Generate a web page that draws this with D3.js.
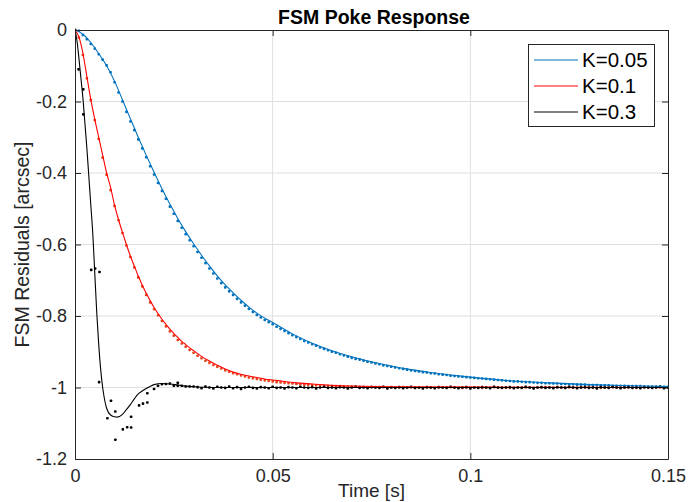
<!DOCTYPE html>
<html><head><meta charset="utf-8">
<script src="https://cdn.jsdelivr.net/npm/d3@7"></script>
<style>
html,body{margin:0;padding:0;background:#fff;}
svg text{font-family:"Liberation Sans",Arial,Helvetica,sans-serif;}
</style></head>
<body><svg id="chart" width="688" height="502"></svg>
<script>
// ---------- data ----------
const xTicks = [0, 0.05, 0.1, 0.15];
const xTickLabels = ["0", "0.05", "0.1", "0.15"];
const yTicks = [0, -0.2, -0.4, -0.6, -0.8, -1, -1.2];
const yTickLabels = ["0", "-0.2", "-0.4", "-0.6", "-0.8", "-1", "-1.2"];
const seriesNames = ["K=0.05", "K=0.1", "K=0.3"];

// model curves (time [s], residual [arcsec])
const blueLineT = [0,0.002,0.004,0.006,0.008,0.010,0.012,0.014,0.016,0.018,0.020,0.022,0.024,0.026,0.028,0.030,0.032,0.034,0.036,0.038,0.040,0.042,0.044,0.046,0.048,0.050,0.055,0.060,0.065,0.070,0.075,0.080,0.085,0.090,0.095,0.100,0.110,0.120,0.130,0.140,0.150];
const blueLineV = [0,-0.012,-0.035,-0.066,-0.1,-0.143,-0.195,-0.248,-0.3,-0.35,-0.398,-0.444,-0.487,-0.527,-0.564,-0.598,-0.63,-0.66,-0.688,-0.713,-0.735,-0.756,-0.775,-0.792,-0.806,-0.818,-0.85,-0.876,-0.897,-0.914,-0.928,-0.94,-0.95,-0.958,-0.965,-0.971,-0.981,-0.987,-0.992,-0.995,-0.997];

const redLineT = [0,0.001,0.002,0.003,0.004,0.005,0.006,0.007,0.008,0.009,0.010,0.011,0.012,0.013,0.014,0.015,0.016,0.017,0.018,0.019,0.020,0.021,0.022,0.023,0.024,0.025,0.026,0.027,0.028,0.029,0.030,0.032,0.034,0.036,0.038,0.040,0.042,0.044,0.046,0.048,0.050,0.053,0.056,0.060,0.065,0.070,0.080,0.100,0.150];
const redLineV = [0,-0.02,-0.065,-0.13,-0.195,-0.25,-0.3,-0.35,-0.4,-0.44,-0.49,-0.53,-0.566,-0.6,-0.632,-0.66,-0.688,-0.713,-0.736,-0.757,-0.776,-0.793,-0.809,-0.823,-0.837,-0.849,-0.86,-0.871,-0.88,-0.889,-0.897,-0.913,-0.926,-0.938,-0.948,-0.957,-0.963,-0.968,-0.972,-0.976,-0.979,-0.983,-0.987,-0.99,-0.994,-0.996,-0.998,-0.999,-1.0];

const blackLineT = [0,0.0005,0.001,0.0015,0.002,0.0025,0.003,0.0035,0.004,0.0045,0.005,0.0055,0.006,0.0065,0.007,0.0075,0.008,0.009,0.010,0.0107,0.012,0.013,0.014,0.015,0.016,0.017,0.018,0.019,0.020,0.022,0.024,0.026,0.028,0.030,0.035,0.040,0.050,0.070,0.100,0.150];
const blackLineV = [0,-0.03,-0.08,-0.135,-0.19,-0.26,-0.33,-0.41,-0.49,-0.57,-0.68,-0.79,-0.88,-0.95,-1.0,-1.035,-1.058,-1.077,-1.082,-1.083,-1.075,-1.062,-1.048,-1.032,-1.018,-1.01,-1.003,-0.997,-0.992,-0.989,-0.99,-0.993,-0.996,-0.998,-1.0,-1.0,-1.0,-1.0,-1.0,-1.0];

// measured samples, one per ms from t = 0
const blueDots = [
 0,-0.002,-0.014,-0.026,-0.039,-0.052,-0.068,-0.083,-0.099,-0.118,
 -0.146,-0.175,-0.2,-0.229,-0.256,-0.28,-0.306,-0.331,-0.356,-0.381,
 -0.404,-0.428,-0.45,-0.472,-0.494,-0.514,-0.534,-0.553,-0.571,-0.588,
 -0.605,-0.621,-0.637,-0.652,-0.667,-0.681,-0.695,-0.708,-0.72,-0.731,
 -0.741,-0.752,-0.762,-0.771,-0.78,-0.789,-0.797,-0.804,-0.811,-0.817,
 -0.823,-0.83,-0.836,-0.842,-0.848,-0.854,-0.859,-0.864,-0.87,-0.874,
 -0.879,-0.883,-0.888,-0.892,-0.896,-0.9,-0.903,-0.907,-0.91,-0.914,
 -0.917,-0.92,-0.922,-0.925,-0.928,-0.93,-0.933,-0.935,-0.938,-0.94,
 -0.942,-0.944,-0.946,-0.948,-0.95,-0.952,-0.954,-0.955,-0.957,-0.958,
 -0.96,-0.961,-0.963,-0.964,-0.965,-0.967,-0.968,-0.969,-0.97,-0.971,
 -0.972,-0.973,-0.974,-0.975,-0.976,-0.977,-0.978,-0.979,-0.98,-0.981,
 -0.982,-0.983,-0.983,-0.984,-0.985,-0.985,-0.986,-0.987,-0.987,-0.988,
 -0.988,-0.989,-0.989,-0.99,-0.99,-0.991,-0.991,-0.992,-0.992,-0.992,
 -0.993,-0.993,-0.993,-0.994,-0.994,-0.994,-0.995,-0.995,-0.995,-0.995,
 -0.996,-0.996,-0.996,-0.996,-0.997,-0.997,-0.997,-0.997,-0.997,-0.998,
 -0.998];

const redDots = [
 0,-0.021,-0.07,-0.135,-0.196,-0.252,-0.305,-0.357,-0.405,-0.448,
 -0.492,-0.532,-0.568,-0.603,-0.635,-0.664,-0.692,-0.717,-0.741,-0.762,
 -0.781,-0.798,-0.814,-0.829,-0.843,-0.855,-0.867,-0.877,-0.886,-0.895,
 -0.903,-0.911,-0.918,-0.925,-0.931,-0.937,-0.942,-0.947,-0.952,-0.956,
 -0.96,-0.963,-0.966,-0.969,-0.972,-0.974,-0.976,-0.978,-0.98,-0.982,
 -0.983,-0.985,-0.986,-0.987,-0.988,-0.989,-0.99,-0.991,-0.992,-0.992,
 -0.993,-0.994,-0.994,-0.995,-0.995,-0.996,-0.996,-0.996,-0.997,-0.997,
 -0.997,-0.998,-0.998,-0.998,-0.999,-0.998,-0.999,-0.999,-0.999,-1.0,
 -0.999,-1.0,-1.0,-0.999,-1.0,-1.0,-1.001,-1.0,-1.0,-1.0,
 -1.0,-1.001,-1.0,-1.0,-1.0,-0.999,-1.0,-1.0,-1.001,-1.0,
 -1.0,-1.0,-1.0,-1.001,-1.0,-1.0,-0.999,-1.0,-1.0,-1.0,
 -1.001,-1.0,-1.0,-1.0,-1.0,-1.0,-1.001,-1.0,-1.0,-0.999,
 -1.0,-1.0,-1.0,-1.0,-1.001,-1.0,-1.0,-1.0,-1.0,-1.0,
 -0.999,-1.0,-1.0,-1.001,-1.0,-1.0,-1.0,-1.0,-1.0,-1.0,
 -1.0,-1.0,-1.001,-1.0,-1.0,-1.0,-1.0,-0.999,-1.0,-1.0,
 -1.0];

// black early samples (irregular), as [t, value]
const blackDotsEarly = [
 [0,0],[0.0009,-0.11],[0.0021,-0.166],[0.0021,-0.236],
 [0.0041,-0.671],[0.0051,-0.667],[0.0062,-0.677],[0.0061,-0.985],
 [0.0082,-1.086],[0.0091,-1.037],[0.0102,-1.067],[0.0102,-1.146],
 [0.0121,-1.117],[0.0132,-1.111],[0.0142,-1.112],[0.0142,-1.082],
 [0.0162,-1.05],[0.0172,-1.045],[0.0183,-1.042],[0.0183,-1.016],
 [0.026,-0.995]];
// black samples one per ms from t = 0.020
const blackDotsLate = [
 -1.004,-0.995,-0.991,-0.99,-0.989,-0.995,-0.987,-0.995,-0.997,-0.997,
 -0.997,-0.999,-1.002,-0.997,-1.0,-1.003,-0.998,-1.0,-1.001,-0.997,
 -1.002,-0.999,-1.004,-1.0,-0.998,-1.001,-1.003,-0.999,-1.0,-1.002,
 -0.998,-1.001,-1.0,-1.003,-0.999,-1.0,-1.002,-0.998,-1.0,-1.001,
 -0.999,-1.003,-1.0,-0.998,-1.001,-1.0,-1.002,-0.999,-1.0,-1.003,
 -1.0,-0.998,-1.001,-1.0,-1.002,-0.999,-1.0,-1.001,-0.998,-1.003,
 -1.0,-1.001,-0.999,-1.002,-1.0,-0.998,-1.001,-1.0,-1.003,-0.999,
 -1.0,-1.002,-0.999,-1.0,-1.001,-0.998,-1.0,-1.002,-1.0,-0.999,
 -1.003,-1.0,-1.001,-0.999,-1.0,-1.002,-0.998,-1.0,-1.001,-1.0,
 -0.999,-1.002,-1.0,-1.001,-0.998,-1.0,-1.003,-1.0,-0.999,-1.001,
 -1.0,-1.002,-0.999,-1.0,-1.001,-0.998,-1.0,-1.002,-1.0,-0.999,
 -1.001,-1.0,-1.003,-0.999,-1.0,-1.001,-0.998,-1.0,-1.002,-1.0,
 -0.999,-1.001,-1.0,-1.002,-0.999,-1.0,-1.001,-1.0,-0.998,-1.002,
 -1.0];

// ---------- layout ----------
const svg = d3.select("#chart");
const L = 75, R = 668, T = 30, B = 459;
const x = d3.scaleLinear().domain([0, 0.15]).range([L, R]);
const y = d3.scaleLinear().domain([-1.2, 0]).range([B, T]);
const axisCol = "#262626", gridCol = "#dfdfdf";
const colBlue = "#0072BD", colRed = "#FF0000", colBlack = "#000000";
const dotBlue = "#0072BD", dotRed = "#E8461E", dotBlack = "#000000";

// grid
const g = svg.append("g");
g.selectAll(".gx").data(xTicks.slice(1, -1)).join("line")
  .attr("x1", d => x(d)).attr("x2", d => x(d)).attr("y1", T).attr("y2", B)
  .attr("stroke", gridCol).attr("stroke-width", 1);
g.selectAll(".gy").data(yTicks.slice(1, -1)).join("line")
  .attr("y1", d => y(d)).attr("y2", d => y(d)).attr("x1", L).attr("x2", R)
  .attr("stroke", gridCol).attr("stroke-width", 1);

// clip
svg.append("clipPath").attr("id", "clip").append("rect")
  .attr("x", L).attr("y", T - 2).attr("width", R - L).attr("height", B - T + 4);
const plot = svg.append("g").attr("clip-path", "url(#clip)");

const mk = (ts, vs) => ts.map((t, i) => [t, vs[i]]);
const lineGen = d3.line().x(d => x(d[0])).y(d => y(d[1])).curve(d3.curveMonotoneX);

const blueLine = mk(blueLineT, blueLineV);
const redLine = mk(redLineT, redLineV);
const blackLine = mk(blackLineT, blackLineV);

const blueD = blueDots.map((v, i) => [i * 0.001, v]);
const redD = redDots.map((v, i) => [i * 0.001, v]);
const blackD = blackDotsEarly.concat(blackDotsLate.map((v, i) => [0.020 + i * 0.001, v]));

function dots(data, col) {
  plot.append("g").selectAll("rect").data(data).join("rect")
    .attr("x", d => x(d[0]) - 1.3).attr("y", d => y(d[1]) - 1.3)
    .attr("width", 2.6).attr("height", 2.6).attr("rx", 0.8)
    .attr("fill", col);
}
dots(blueD, dotBlue);
dots(redD, dotRed);
dots(blackD, dotBlack);

plot.append("path").datum(blueLine).attr("d", lineGen).attr("fill", "none").attr("stroke", colBlue).attr("stroke-width", 1.1);
plot.append("path").datum(redLine).attr("d", lineGen).attr("fill", "none").attr("stroke", colRed).attr("stroke-width", 1.1);
plot.append("path").datum(blackLine).attr("d", lineGen).attr("fill", "none").attr("stroke", colBlack).attr("stroke-width", 1.1);

// axes (box with inward ticks)
const tickLen = 6;
const fs = "18px";
const xb = svg.append("g").attr("transform", `translate(0,${B})`)
  .call(d3.axisBottom(x).tickValues(xTicks).tickSizeInner(-tickLen).tickSizeOuter(0).tickPadding(10)
    .tickFormat((d, i) => xTickLabels[i]));
const xt = svg.append("g").attr("transform", `translate(0,${T})`)
  .call(d3.axisTop(x).tickValues(xTicks).tickSizeInner(-tickLen).tickSizeOuter(0).tickFormat(""));
const yl = svg.append("g").attr("transform", `translate(${L},0)`)
  .call(d3.axisLeft(y).tickValues(yTicks).tickSizeInner(-tickLen).tickSizeOuter(0).tickPadding(8)
    .tickFormat((d, i) => yTickLabels[i]));
const yr = svg.append("g").attr("transform", `translate(${R},0)`)
  .call(d3.axisRight(y).tickValues(yTicks).tickSizeInner(-tickLen).tickSizeOuter(0).tickFormat(""));
[xb, xt, yl, yr].forEach(a => {
  a.select(".domain").attr("stroke", axisCol).attr("stroke-width", 1);
  a.selectAll(".tick line").attr("stroke", axisCol);
  a.selectAll("text").attr("fill", "#262626").style("font-size", fs)
   .style("font-family", '"Liberation Sans", Arial, sans-serif');
});

// title + labels
svg.append("text").attr("x", 374).attr("y", 24).attr("text-anchor", "middle")
  .style("font-size", "19.5px").style("font-weight", "bold").attr("fill", "#000").text("FSM Poke Response");
svg.append("text").attr("x", (L + R) / 2).attr("y", 497).attr("text-anchor", "middle")
  .style("font-size", "19px").attr("fill", "#262626").text("Time [s]");
svg.append("text").attr("transform", `translate(29,${(T + B) / 2}) rotate(-90)`).attr("text-anchor", "middle")
  .style("font-size", "19.5px").attr("fill", "#262626").text("FSM Residuals [arcsec]");

// legend
const lg = svg.append("g");
lg.append("rect").attr("x", 528.5).attr("y", 44.5).attr("width", 126).attr("height", 82)
  .attr("fill", "#fff").attr("stroke", axisCol).attr("stroke-width", 1);
const legCols = [colBlue, colRed, colBlack];
const legY = [60, 86, 112];
seriesNames.forEach((n, i) => {
  lg.append("line").attr("x1", 534).attr("x2", 578).attr("y1", legY[i]).attr("y2", legY[i])
    .attr("stroke", legCols[i]).attr("stroke-width", 1.1);
  lg.append("text").attr("x", 582).attr("y", legY[i] + 7).style("font-size", "20.5px")
    .attr("fill", "#000").text(n);
});
</script></body></html>
